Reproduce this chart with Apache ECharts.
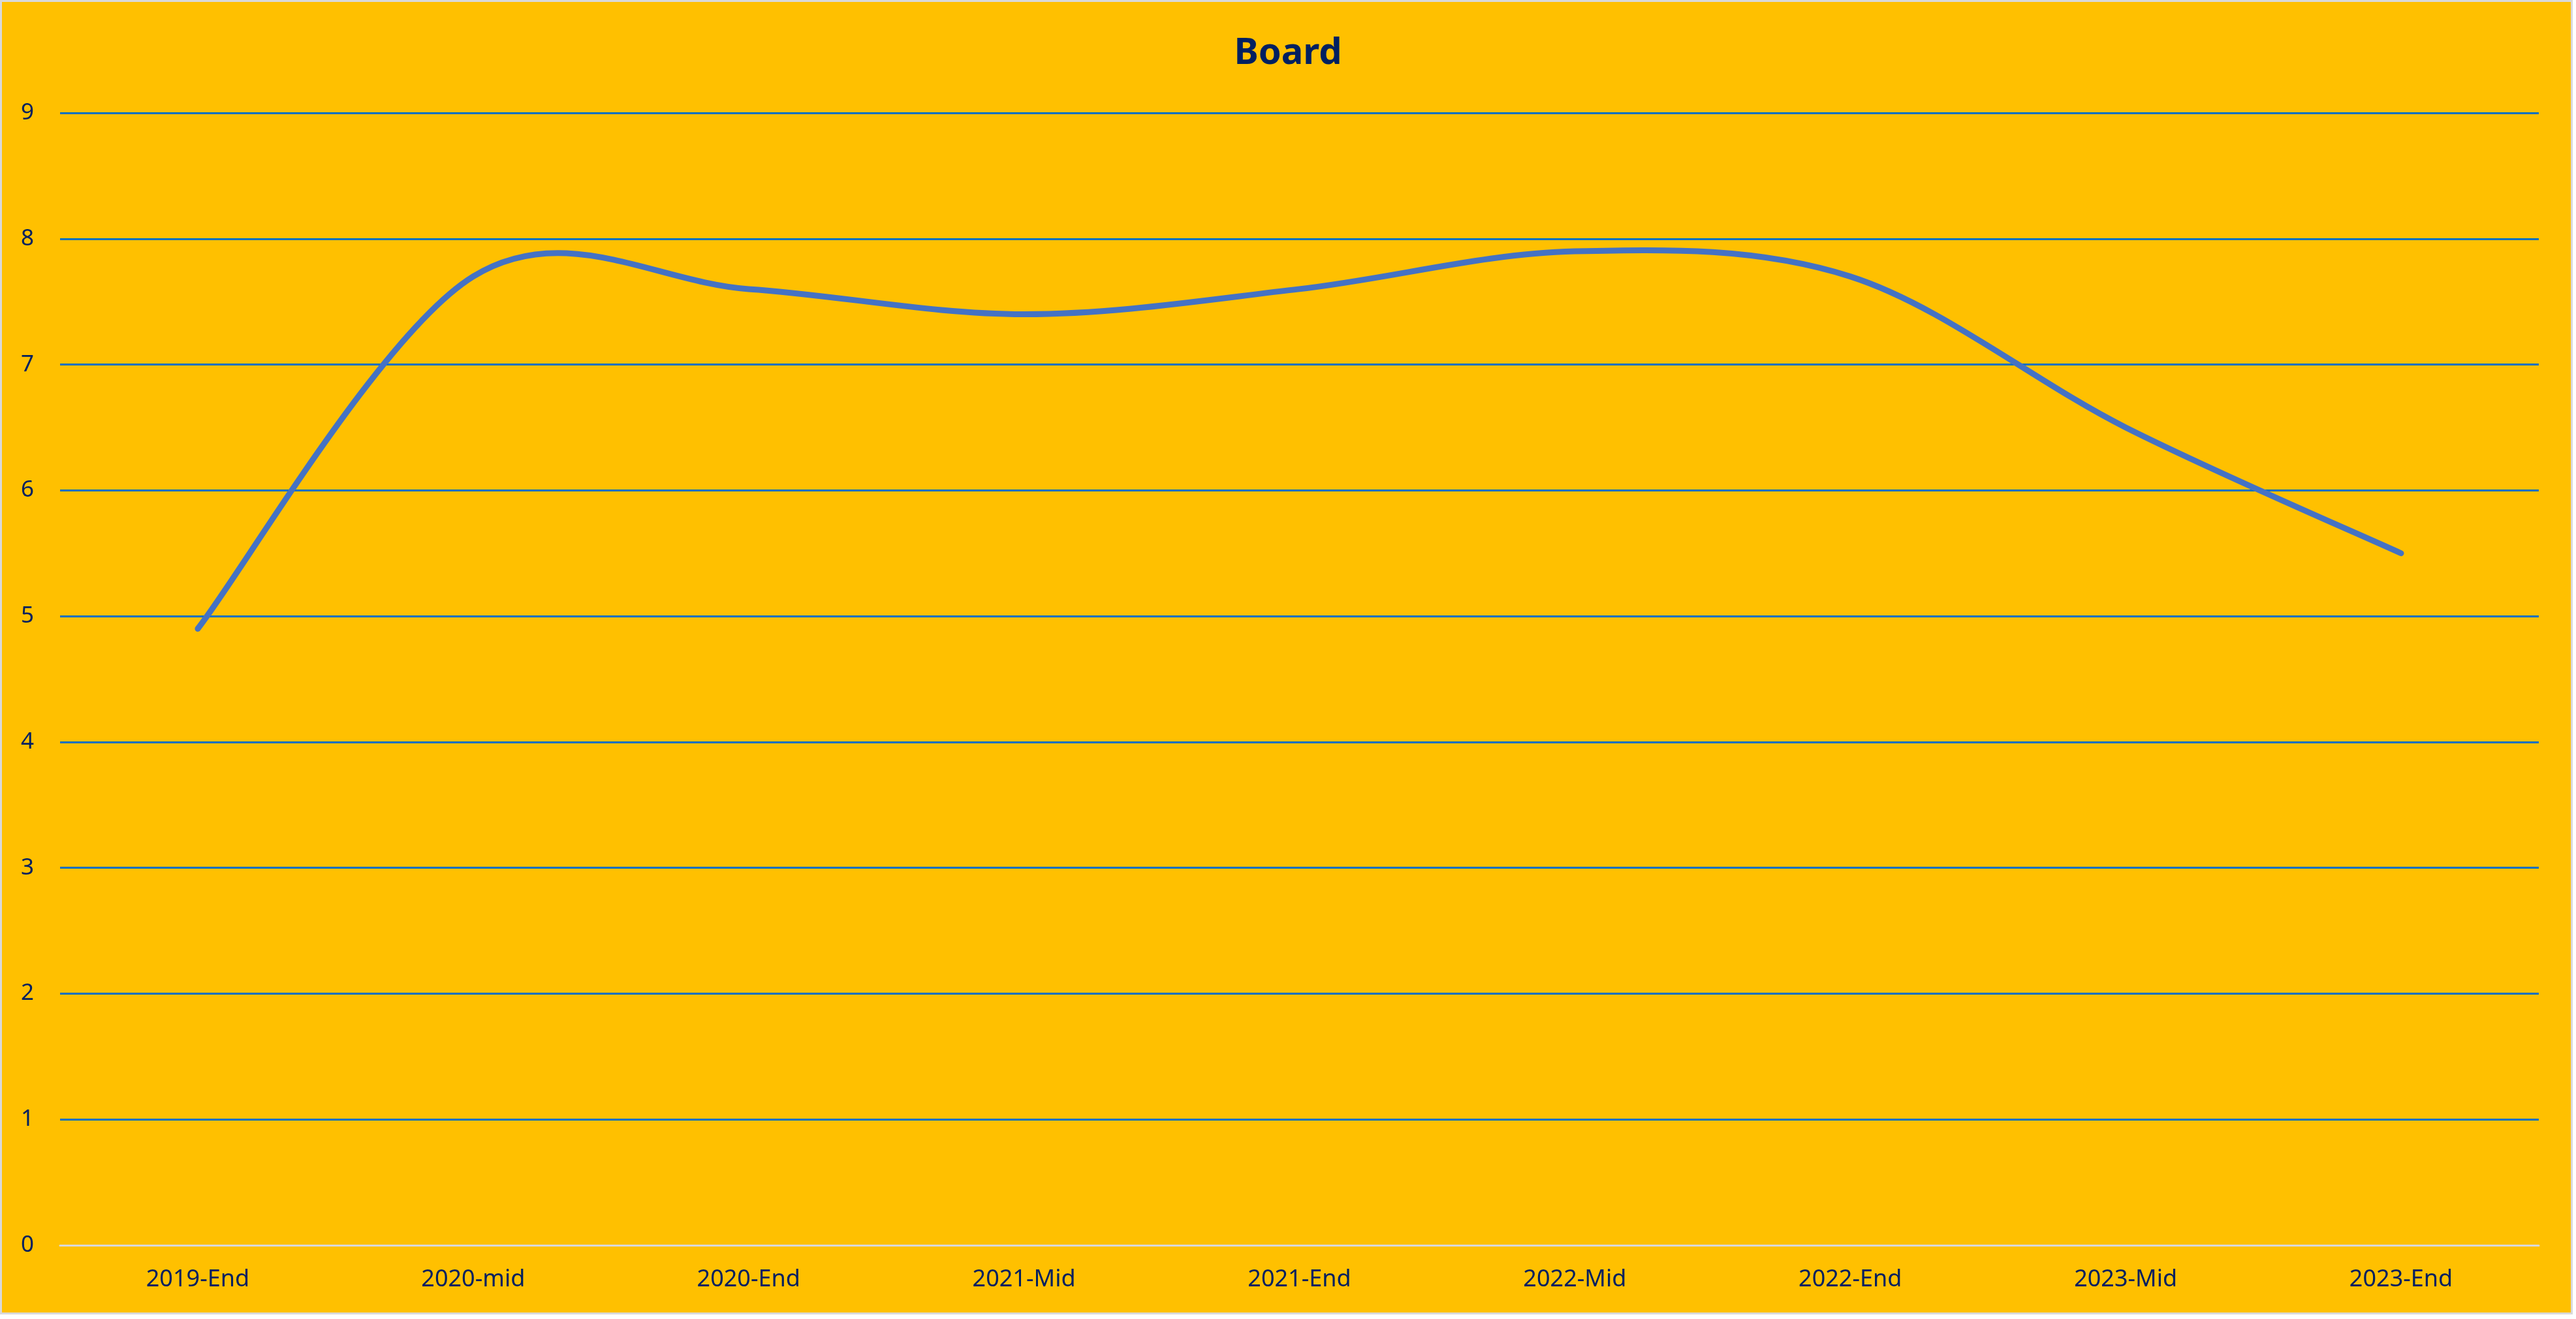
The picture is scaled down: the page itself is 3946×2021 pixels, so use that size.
<!DOCTYPE html>
<html>
<head>
<meta charset="utf-8">
<script src="https://cdn.jsdelivr.net/npm/echarts@6/dist/echarts.min.js"></script>
<style>
html,body{margin:0;padding:0;background:#ffffff;}
#chart{width:3946px;height:2021px;}
</style>
</head>
<body>
<div id="chart"></div>
<script>
const categories = ['2019-End','2020-mid','2020-End','2021-Mid','2021-End','2022-Mid','2022-End','2023-Mid','2023-End'];
const boardValues = [4.9, 7.7, 7.6, 7.4, 7.6, 7.9, 7.7, 6.5, 5.5];
const yTicks = [0, 9, 1]; // min, max, interval

const chart = echarts.init(document.getElementById('chart'), null, {renderer:'canvas'});
const font = 'Noto Sans';

// Excel-style smoothed line (Catmull-Rom Bezier) through points placed by the axes
function renderSmooth(params, api) {
  if (params.dataIndex !== 0) return null;
  const pts = boardValues.map((v, i) => api.coord([i, v]));
  const n = pts.length;
  let d = 'M' + pts[0][0] + ' ' + pts[0][1];
  for (let i = 0; i < n - 1; i++) {
    const p0 = pts[Math.max(i - 1, 0)];
    const p1 = pts[i];
    const p2 = pts[i + 1];
    const p3 = pts[Math.min(i + 2, n - 1)];
    const c1x = p1[0] + (p2[0] - p0[0]) / 6;
    const c1y = p1[1] + (p2[1] - p0[1]) / 6;
    const c2x = p2[0] - (p3[0] - p1[0]) / 6;
    const c2y = p2[1] - (p3[1] - p1[1]) / 6;
    d += ' C' + c1x + ' ' + c1y + ' ' + c2x + ' ' + c2y + ' ' + p2[0] + ' ' + p2[1];
  }
  return {
    type: 'path',
    shape: {pathData: d},
    style: {fill: null, stroke: '#4472C4', lineWidth: 9, lineCap: 'round', lineJoin: 'round'}
  };
}

chart.setOption({
  backgroundColor: 'transparent',
  animation: false,
  graphic: [{
    type: 'rect', z: -100, silent: true,
    shape: {x: 1.5, y: 1.5, width: 3938, height: 2011},
    style: {fill: '#FFC000', stroke: '#D9D9D9', lineWidth: 3}
  }],
  title: {
    text: 'Board', left: 'center', top: 49,
    textStyle: {fontFamily: font, fontSize: 56, fontWeight: 'bold', color: '#002060'}
  },
  grid: {left: 92, right: 57, top: 173, bottom: 113, containLabel: false},
  xAxis: {
    type: 'category', data: categories, boundaryGap: true,
    axisTick: {show: false},
    axisLine: {show: true, lineStyle: {color: '#D9D9D9', width: 3}},
    axisLabel: {fontFamily: font, fontSize: 36, color: '#002060', margin: 35},
    splitLine: {show: false}
  },
  yAxis: {
    type: 'value', min: yTicks[0], max: yTicks[1], interval: yTicks[2],
    axisLine: {show: false}, axisTick: {show: false},
    axisLabel: {fontFamily: font, fontSize: 35, color: '#002060', margin: 40},
    splitLine: {show: true, showMinLine: false, lineStyle: {color: '#0070C0', width: 3}}
  },
  series: [{
    type: 'custom', name: 'Board',
    data: boardValues.map((v, i) => [i, v]),
    encode: {x: 0, y: 1},
    renderItem: renderSmooth,
    z: 3
  }]
});
</script>
</body>
</html>
